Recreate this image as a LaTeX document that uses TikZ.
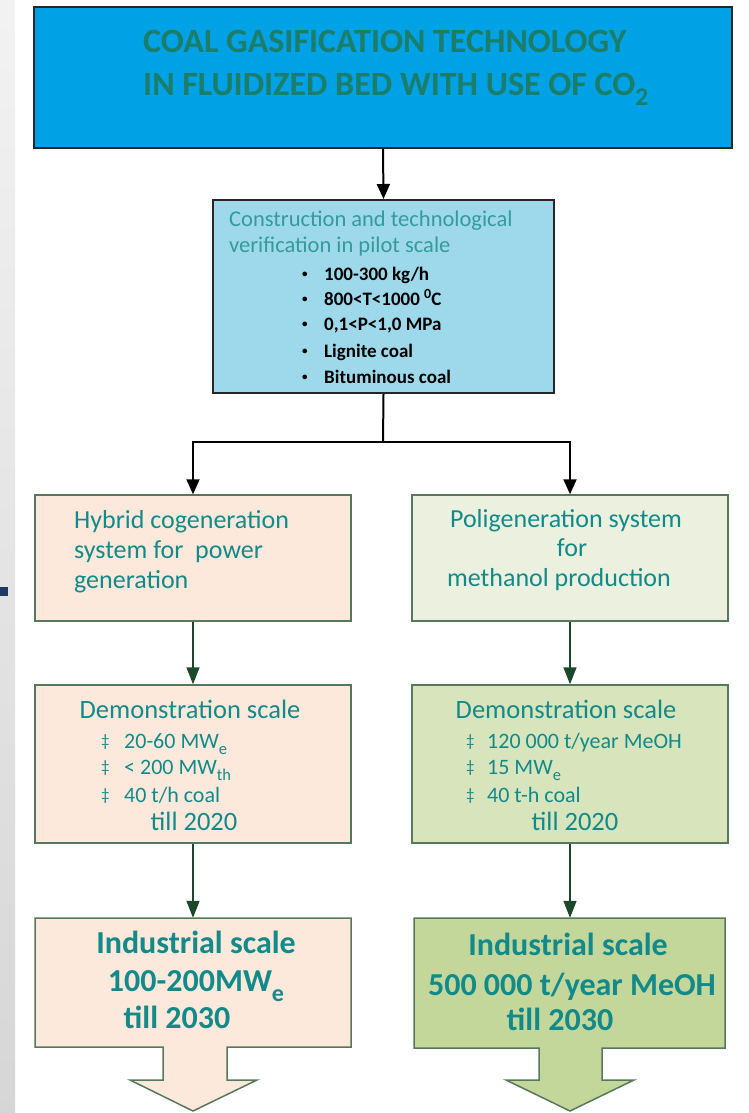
\documentclass[tikz,border=0pt]{standalone}
\usepackage{fontspec}
\setmainfont{Carlito}
\usetikzlibrary{arrows.meta}
\definecolor{topfill}{RGB}{0,162,230}
\definecolor{pilotfill}{RGB}{157,217,234}
\definecolor{peach}{RGB}{252,233,219}
\definecolor{lgreen}{RGB}{235,241,222}
\definecolor{mgreen}{RGB}{216,228,188}
\definecolor{dgreen}{RGB}{196,215,155}
\definecolor{topteal}{RGB}{28,125,105}
\definecolor{teal1}{RGB}{18,138,138}
\definecolor{teal2}{RGB}{52,155,155}
\definecolor{gborder}{RGB}{88,120,92}
\definecolor{garrow}{RGB}{28,72,42}
\definecolor{navy}{RGB}{31,56,100}
\newcommand{\sbx}[1]{\raisebox{-0.3em}{\fontsize{0.75em}{1em}\selectfont #1}}
\newcommand{\pbul}{\makebox[23pt][l]{\hspace{1pt}\raisebox{0.15em}{\fontsize{11}{11}\selectfont •}}}
\newcommand{\dbul}[1]{\makebox[#1][l]{\raisebox{0.1em}{\fontsize{17}{17}\selectfont ‡}}}
\begin{document}
\begin{tikzpicture}[x=1pt,y=-1pt,
  darkbox/.style={draw=black!85,line width=2pt,inner sep=0},
  gbox/.style={draw=gborder,line width=1.5pt,inner sep=0},
  blkarrow/.style={draw=black,line width=2pt,-{Triangle[width=13pt,length=15pt]}},
  blkline/.style={draw=black,line width=2pt},
  grnarrow/.style={draw=garrow,line width=1.5pt,-{Triangle[width=13pt,length=17pt]}},
  toptxt/.style={inner sep=0,anchor=mid west,text=topteal,font=\fontsize{34}{40}\selectfont\bfseries},
  pilothead/.style={inner sep=0,anchor=mid west,text=teal2,font=\fontsize{22.5}{26}\selectfont},
  pilotitem/.style={inner sep=0,anchor=mid west,text=black,font=\fontsize{19}{22}\selectfont\bfseries},
  sysL/.style={inner sep=0,anchor=mid west,text=teal1,font=\fontsize{26}{30}\selectfont},
  sysC/.style={inner sep=0,anchor=mid,text=teal1,font=\fontsize{26}{30}\selectfont},
  demohead/.style={inner sep=0,anchor=mid,text=teal1,font=\fontsize{26.5}{30}\selectfont},
  demoitem/.style={inner sep=0,anchor=mid west,text=teal1,font=\fontsize{22}{26}\selectfont},
  indtxt/.style={inner sep=0,anchor=mid,text=teal1,font=\fontsize{32}{36}\selectfont\bfseries}
]
\useasboundingbox (0,0) rectangle (748,1113);
\fill[white] (0,0) rectangle (748,1113);
\shade[top color=black!5,bottom color=black!16] (0,0) rectangle (15,1113);
\fill[navy] (0,587) rectangle (8,596);

% boxes
\node[darkbox,fill=topfill,minimum width=698pt,minimum height=141pt] (top) at (383,77.5) {};
\node[darkbox,fill=pilotfill,minimum width=341pt,minimum height=193pt] (pilot) at (383.5,296.5) {};
\node[gbox,fill=peach,minimum width=316pt,minimum height=126pt] (hyb) at (193,558) {};
\node[gbox,fill=lgreen,minimum width=316pt,minimum height=126pt] (pol) at (570,558) {};
\node[gbox,fill=peach,minimum width=316pt,minimum height=158pt] (demoL) at (193,764) {};
\node[gbox,fill=mgreen,minimum width=316pt,minimum height=158pt] (demoR) at (570,764) {};

% industrial boxes with block arrows
\filldraw[fill=peach,draw=gborder,line width=1.5pt,line join=miter]
  (35,918) -- (351,918) -- (351,1047) -- (227,1047) -- (227,1080) -- (257,1080)
  -- (193,1111) -- (130,1080) -- (163,1080) -- (163,1047) -- (35,1047) -- cycle;
\filldraw[fill=dgreen,draw=gborder,line width=1.5pt,line join=miter]
  (414,918) -- (725,918) -- (725,1048) -- (602,1048) -- (602,1080) -- (634,1080)
  -- (570,1111) -- (506,1080) -- (539,1080) -- (539,1048) -- (414,1048) -- cycle;
\node[inner sep=0,minimum width=316pt,minimum height=129pt] (indL) at (193,982.5) {};
\node[inner sep=0,minimum width=311pt,minimum height=130pt] (indR) at (569.5,983) {};

% connectors
\draw[blkarrow] (top.south) -- (pilot.north);
\coordinate (split) at (383,442);
\draw[blkline] (pilot.south) -- (split);
\draw[blkarrow] (split) -| (hyb.north);
\draw[blkarrow] (split) -| (pol.north);
\draw[grnarrow] (hyb.south) -- (demoL.north);
\draw[grnarrow] (pol.south) -- (demoR.north);
\draw[grnarrow] (demoL.south) -- (demoL.south |- indL.north);
\draw[grnarrow] (demoR.south) -- (demoR.south |- indR.north);

% top text
\node[toptxt] (t1) at (143,50) {COAL GASIFICATION TECHNOLOGY};
\node[toptxt] (t2) at (143,93) {IN FLUIDIZED BED WITH USE OF CO\sbx{2}};

% pilot text
\node[pilothead] (p1) at (229,224) {Construction and technological};
\node[pilothead] (p2) at (229,250) {verification in pilot scale};
\node[pilotitem] (p3) at (301,278) {\pbul 100-300 kg/h};
\node[pilotitem] (p4) at (301,303) {\pbul 800<T<1000 \raisebox{0.35em}{\fontsize{14}{14}\selectfont 0}C};
\node[pilotitem] (p5) at (301,328) {\pbul 0,1<P<1,0 MPa};
\node[pilotitem] (p6) at (301,355) {\pbul Lignite coal};
\node[pilotitem] (p7) at (301,381) {\pbul Bituminous coal};

% system texts
\node[sysL] (h1) at (74,526) {Hybrid cogeneration};
\node[sysL] (h2) at (74,556) {system for\ \ power};
\node[sysL] (h3) at (74,586) {generation};
\node[sysC] (g1) at (566,525) {Poligeneration system};
\node[sysC] (g2) at (572,554) {for};
\node[sysC] (g3) at (559,584) {methanol production};

% demonstration texts
\node[demohead] (d1) at (190,716) {Demonstration scale};
\node[demoitem] (d2) at (101,746) {\dbul{23pt}20-60 MW\sbx{e}};
\node[demoitem] (d3) at (101,772) {\dbul{23pt}< 200 MW\sbx{th}};
\node[demoitem] (d4) at (101,800) {\dbul{23pt}40 t/h coal};
\node[demohead] (d5) at (194,828) {till 2020};
\node[demohead] (e1) at (566,716) {Demonstration scale};
\node[demoitem] (e2) at (466,746) {\dbul{21pt}120 000 t/year MeOH};
\node[demoitem] (e3) at (466,772) {\dbul{21pt}15 MW\sbx{e}};
\node[demoitem] (e4) at (466,800) {\dbul{21pt}40 t-h coal};
\node[demohead] (e5) at (575,828) {till 2020};

% industrial texts
\node[indtxt] (i1) at (196,951) {Industrial scale};
\node[indtxt] (i2) at (196,989) {100-200MW\sbx{e}};
\node[indtxt] (i3) at (177,1026) {till 2030};
\node[indtxt] (j1) at (568,953) {Industrial scale};
\node[indtxt] (j2) at (572,993) {500 000 t/year MeOH};
\node[indtxt] (j3) at (560,1028) {till 2030};
\end{tikzpicture}
\end{document}
